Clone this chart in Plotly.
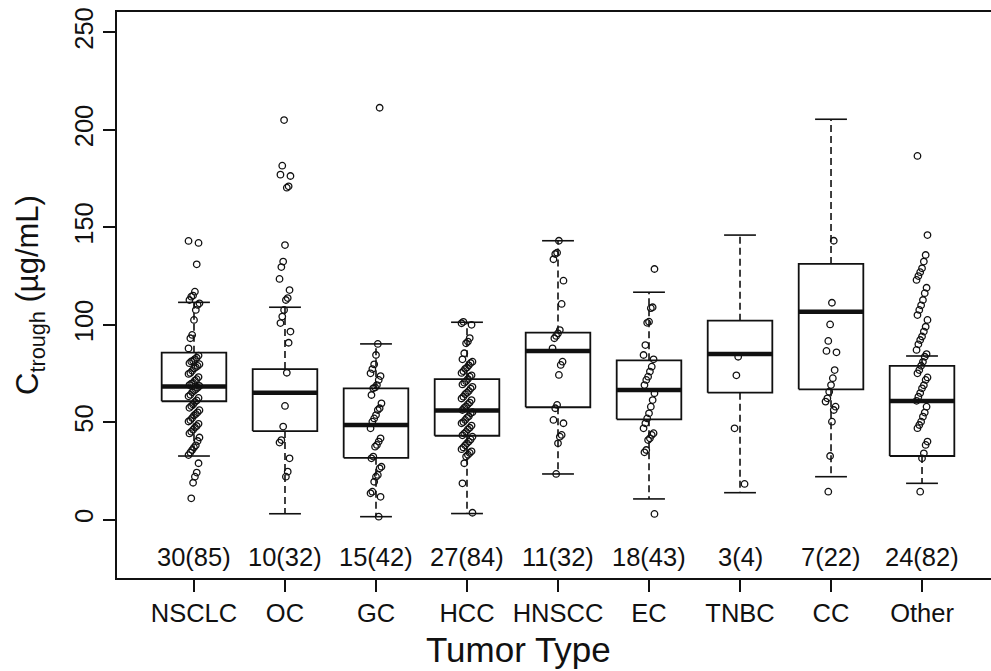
import plotly.graph_objects as go

categories = ["NSCLC", "OC", "GC", "HCC", "HNSCC", "EC", "TNBC", "CC", "Other"]
count_labels = ["30(85)", "10(32)", "15(42)", "27(84)", "11(32)", "18(43)", "3(4)", "7(22)", "24(82)"]

# box statistics: lower whisker, Q1, median, Q3, upper whisker
whisker_low = [32.7, 3.1, 1.6, 3.2, 23.5, 10.7, 13.9, 22.1, 18.7]
q1 = [60.8, 45.5, 31.8, 43.1, 57.7, 51.5, 65.2, 66.9, 32.7]
median = [68.3, 65.2, 48.6, 56.1, 86.6, 66.6, 85.0, 106.7, 60.9]
q3 = [85.7, 77.3, 67.4, 72.1, 96.0, 81.8, 102.1, 131.2, 78.9]
whisker_high = [111.5, 109.0, 90.2, 101.3, 143.1, 116.7, 146.0, 205.4, 84.0]

# individual observations
pts_nsclc = [143, 142, 131, 117, 115, 114.4, 112.7, 111, 110.2, 107.6, 102.5, 94.8, 93.1, 87.9,
             84.2, 83.1, 82.4, 81.6, 81.2, 80.3, 79.8, 78.9, 78.2, 77.6, 76.4, 75.3, 74.8, 73.2,
             72.1, 71.4, 70.2, 69.8, 69.1, 68.6, 67.7, 66.9, 66.2, 65.4, 64.1, 63.3, 62.5, 61.2,
             60.4, 59.1, 58.3, 57.4, 56.2, 55.1, 54.3, 53.5, 52.2, 51.1, 50.4, 49.2, 48.1, 47.3,
             46.2, 45.1, 44.3, 42.2, 40.4, 38.2, 37.1, 35.8, 34.5, 33.2, 29, 24.2, 22.1, 19, 11]
pts_oc = [205, 181.6, 177, 176.3, 171, 170.3, 140.9, 132.4, 129.6, 123.5, 117.8, 113.7, 112.7,
          107.6, 104.2, 100.9, 96.5, 90.8, 75.4, 58.4, 47.8, 40.9, 39.6, 31.5, 24.7, 22.1]
pts_gc = [211.3, 90.2, 84.5, 79.7, 77.3, 75.1, 73.7, 71.7, 69.1, 67.9, 67.4, 64, 59.7, 57.2,
          56.3, 53.7, 52, 50.3, 46.9, 41.8, 40.1, 38.4, 37.5, 32.4, 31.5, 27.2, 26.4, 23, 22.1,
          19.5, 14.4, 13.6, 11.8, 1.6]
pts_hcc = [101.5, 100.8, 100, 93.2, 91.4, 90.5, 85.4, 82.3, 81.1, 80.4, 79.2, 78.1, 77.4, 76.2,
           75.3, 74.1, 73.4, 72.2, 71.1, 70.3, 69.4, 68.2, 67.3, 66.1, 65.2, 64.4, 63.1, 62.2,
           61.4, 60.1, 59.3, 58.2, 57.4, 56.3, 55.2, 54.6, 53.1, 52.3, 51.2, 50.1, 49.5, 48.3,
           47.2, 46.4, 45.1, 44.2, 43.3, 42.6, 41.2, 40.1, 39.3, 38.2, 37.1, 36.2, 35.1, 34.3,
           33.4, 32.4, 29, 18.7, 3.6]
pts_hnscc = [143.1, 137, 136.3, 133.6, 122.6, 110.7, 97.3, 95.6, 94.3, 93.1, 87.9, 81.1, 79.4,
             74.3, 58.9, 57.2, 51.2, 49.5, 43.5, 42.6, 39.2, 23.5]
pts_ec = [128.6, 109, 108.5, 101.6, 101, 89.6, 84.5, 82.3, 78.5, 76, 73.4, 71.7, 69.1, 64.9,
          61.4, 58, 54.6, 52, 49.5, 46.9, 44.4, 43.5, 41.8, 40.9, 35.8, 34.6, 3.0]
pts_tnbc = [83.6, 74.1, 46.9, 18.4]
pts_cc = [143.1, 111.3, 100.2, 91.7, 86.6, 85.9, 76.8, 72.6, 69.1, 65.7, 62.3, 60.6, 58, 56.3,
          50.3, 32.7, 14.4]
pts_other = [186.6, 146, 135.8, 132.4, 129, 127, 125, 123, 119, 116.2, 112.7, 110, 107.6, 105,
             102.5, 99, 96.5, 94, 92.2, 90, 87.1, 85, 83.6, 81, 79, 76.8, 75.1, 73, 71.7, 69,
             67.4, 65, 63.1, 61, 58, 55, 52.9, 50.3, 48.6, 47, 40.1, 38.4, 34.1, 31.5, 14.4]
points = [pts_nsclc, pts_oc, pts_gc, pts_hcc, pts_hnscc, pts_ec, pts_tnbc, pts_cc, pts_other]

FONT = "Liberation Sans, Arial, sans-serif"
BOX_HALF = 0.355
CAP_HALF = 0.175
INK = "#111111"

fig = go.Figure()

bx, by, mx, my, wx, wy, cx, cy = [], [], [], [], [], [], [], []
for i in range(len(categories)):
    p = i + 1
    bx += [p - BOX_HALF, p + BOX_HALF, p + BOX_HALF, p - BOX_HALF, p - BOX_HALF, None]
    by += [q1[i], q1[i], q3[i], q3[i], q1[i], None]
    mx += [p - BOX_HALF, p + BOX_HALF, None]
    my += [median[i], median[i], None]
    wx += [p, p, None, p, p, None]
    wy += [q3[i], whisker_high[i], None, q1[i], whisker_low[i], None]
    cx += [p - CAP_HALF, p + CAP_HALF, None, p - CAP_HALF, p + CAP_HALF, None]
    cy += [whisker_high[i], whisker_high[i], None, whisker_low[i], whisker_low[i], None]

fig.add_trace(go.Scatter(x=wx, y=wy, mode="lines", line=dict(color=INK, width=1.6, dash="7px,4px"),
                         hoverinfo="skip", showlegend=False))
fig.add_trace(go.Scatter(x=cx, y=cy, mode="lines", line=dict(color=INK, width=1.6),
                         hoverinfo="skip", showlegend=False))
fig.add_trace(go.Scatter(x=bx, y=by, mode="lines", line=dict(color=INK, width=1.8),
                         hoverinfo="skip", showlegend=False))
fig.add_trace(go.Scatter(x=mx, y=my, mode="lines", line=dict(color=INK, width=4.5),
                         hoverinfo="skip", showlegend=False))

px_, py_ = [], []
for i, vals in enumerate(points):
    for j, v in enumerate(vals):
        off = (((j * 37 + i * 5) % 13) - 6) / 6.0 * 0.06
        px_.append(i + 1 + off)
        py_.append(v)
fig.add_trace(go.Scatter(x=px_, y=py_, mode="markers",
                         marker=dict(symbol="circle-open", size=6.5, color=INK, line=dict(width=1.3)),
                         showlegend=False))

for i, lab in enumerate(count_labels):
    fig.add_annotation(x=i + 1, y=-19, xref="x", yref="y", text=lab, showarrow=False,
                       font=dict(family=FONT, size=25.5, color=INK), xanchor="center", yanchor="middle")

W, H = 991, 671
L, R, T, B = 117, 0, 12, 93
PW, PH = W - L - R, H - T - B


def px2paper(xp, yp):
    return (xp - L) / PW, 1 - (yp - T) / PH


tx, ty = px2paper(518, 649)
fig.add_annotation(x=tx, y=ty, xref="paper", yref="paper", text="Tumor Type", showarrow=False,
                   xanchor="center", yanchor="middle",
                   font=dict(family=FONT, size=35, color=INK))
yx, yy = px2paper(30, 295)
fig.add_annotation(x=yx, y=yy, xref="paper", yref="paper", text="C<sub>trough</sub> (µg/mL)",
                   showarrow=False, textangle=-90, xanchor="center", yanchor="middle",
                   font=dict(family=FONT, size=31, color=INK))

fig.update_layout(
    width=W, height=H,
    margin=dict(l=L, r=R, t=T, b=B, pad=0),
    paper_bgcolor="white", plot_bgcolor="white",
    font=dict(family=FONT, color=INK),
    showlegend=False,
)
fig.update_xaxes(range=[0.154, 9.758], tickvals=list(range(1, 10)), ticktext=categories,
                 ticks="outside", ticklen=12, tickwidth=1.5, tickcolor=INK,
                 showline=True, linecolor=INK, linewidth=1.5, mirror=True,
                 showgrid=False, zeroline=False, tickfont=dict(family=FONT, size=25.5, color=INK))
fig.update_yaxes(range=[-29.85, 260.4], tickvals=[0, 50, 100, 150, 200, 250],
                 ticks="outside", ticklen=12, tickwidth=1.5, tickcolor=INK, tickangle=-90,
                 showline=True, linecolor=INK, linewidth=1.5, mirror=False,
                 showgrid=False, zeroline=False, tickfont=dict(family=FONT, size=25.5, color=INK))

fig.write_html("out.html")
